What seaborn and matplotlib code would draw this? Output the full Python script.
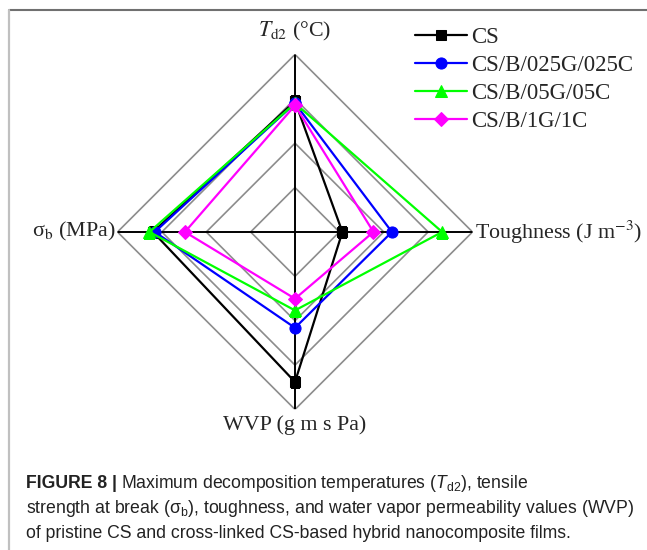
# radar chart of film properties (figure 8)

import numpy as np
import pandas as pd
import matplotlib
matplotlib.use('Agg')
import matplotlib.pyplot as plt
from matplotlib.lines import Line2D
import seaborn as sns

# data (normalised)
properties = ['Td2', 'Toughness', 'WVP', 'sigma_b']
angles_deg = [90, 0, -90, -180]
samples = ['CS', 'CS/B/025G/025C', 'CS/B/05G/05C', 'CS/B/1G/1C']
cs_vals = [0.736, 0.267, 0.845, 0.80]
g025_vals = [0.725, 0.546, 0.54, 0.79]
g05_vals = [0.725, 0.829, 0.442, 0.82]
g1_vals = [0.713, 0.442, 0.376, 0.62]
ring_levels = [0.25, 0.5, 0.75, 1.0]

colors = ['black', '#0000ff', '#00ff00', '#ff00ff']
markers = ['s', 'o', '^', 'D']
msizes = [7, 8, 8.5, 7]

sns.set_theme(style='white')
plt.rcParams['font.family'] = ['Liberation Serif', 'DejaVu Serif']
plt.rcParams['mathtext.fontset'] = 'custom'
plt.rcParams['mathtext.rm'] = 'Liberation Sans'
plt.rcParams['mathtext.it'] = 'Liberation Sans:italic'
plt.rcParams['mathtext.bf'] = 'Liberation Sans:bold'

# long table, polygon closed by repeating first point
theta = np.deg2rad(angles_deg + [angles_deg[0]])
rows = []
for name, vals in zip(samples, [cs_vals, g025_vals, g05_vals, g1_vals]):
    for t, v in zip(theta, vals + [vals[0]]):
        rows.append({'sample': name, 'theta': t, 'value': v})
df = pd.DataFrame(rows)

fig = plt.figure(figsize=(6.47, 5.5), dpi=100)
ax = fig.add_axes([0.1816, 0.2555, 0.5487, 0.6455], projection='polar')
ax.set_facecolor('none')
ax.grid(False)
ax.set_xticks([])
ax.set_yticks([])
ax.spines['polar'].set_visible(False)
ax.set_ylim(0, 1)

# diamond rings and spokes
for lev in ring_levels:
    ax.plot(theta, [lev] * len(theta), color='#8c8c8c', lw=1.2, zorder=1)
ax.vlines(np.deg2rad(angles_deg), 0, 1, color='black', lw=1.4, zorder=2)

for name, c, m, ms in zip(samples, colors, markers, msizes):
    sub = df[df['sample'] == name]
    sns.lineplot(data=sub, x='theta', y='value', sort=False, estimator=None,
                 color=c, marker=m, markersize=ms, markeredgecolor=c,
                 lw=1.6, label=name, ax=ax, zorder=3)
ax.set_xlabel('')
ax.set_ylabel('')

# axis labels
lab_kw = dict(fontsize=15.8, math_fontfamily='stix', clip_on=False)
ax.text(np.deg2rad(90), 1.104, r'$T_{\rm d2}$ (°C)', ha='center', va='baseline', **lab_kw)
ax.text(np.deg2rad(0), 1.015, r'Toughness (J m$^{-3}$)', ha='left', va='center', **lab_kw)
ax.text(np.deg2rad(-90), 1.115, 'WVP (g m s Pa)', ha='center', va='baseline', **lab_kw)
ax.text(np.deg2rad(180), 1.01, r'σ$_{\rm b}$ (MPa)', ha='right', va='center', **lab_kw)

ax.legend(loc='upper left', bbox_to_anchor=(415 / 647, 1 - 27 / 550),
          bbox_transform=fig.transFigure, frameon=False, fontsize=16.5,
          handlelength=2.27, handletextpad=0.2, labelspacing=0.3,
          borderpad=0, borderaxespad=0)

# frame lines of the figure panel
fig.add_artist(Line2D([9 / 647, 1], [1 - 10 / 550] * 2, color='#707070', lw=1.5,
                      transform=fig.transFigure))
fig.add_artist(Line2D([9 / 647] * 2, [0, 1 - 10 / 550], color='#c0c0c0', lw=1.6,
                      transform=fig.transFigure))

# caption
cap_kw = dict(fontsize=12.7, family='Liberation Sans', color='#222222')
x0 = 26 / 647
bold = fig.text(x0, 1 - 488 / 550, 'FIGURE 8 |', weight='bold', va='baseline', **cap_kw)
fig.canvas.draw()
bb = bold.get_window_extent()
fig.text((bb.x1 + 4) / fig.bbox.width, 1 - 488 / 550,
         r'Maximum decomposition temperatures ($T_{\rm d2}$), tensile',
         va='baseline', math_fontfamily='custom', **cap_kw)
fig.text(x0, 1 - 513 / 550,
         r'strength at break (σ$_{\rm b}$), toughness, and water vapor permeability values (WVP)',
         va='baseline', math_fontfamily='custom', **cap_kw)
fig.text(x0, 1 - 538 / 550,
         'of pristine CS and cross-linked CS-based hybrid nanocomposite films.',
         va='baseline', **cap_kw)

fig.savefig('out.png', dpi=100)
